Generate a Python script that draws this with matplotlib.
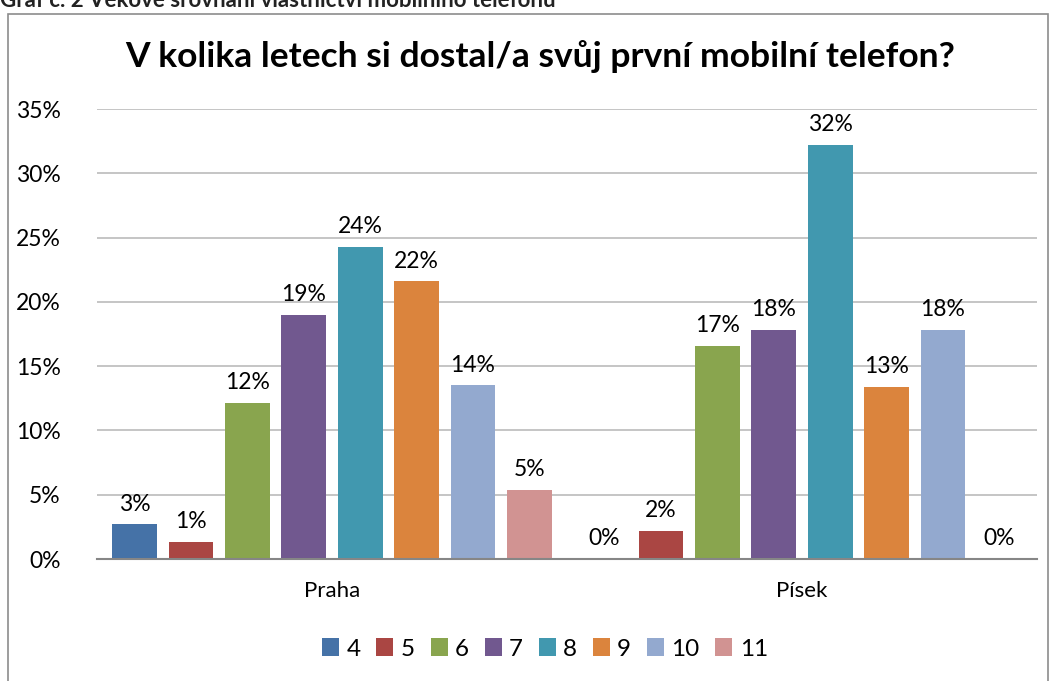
import numpy as np
import matplotlib
matplotlib.use("Agg")
import matplotlib.pyplot as plt
from matplotlib.patches import Rectangle

# data (share of respondents)
mesta = ["Praha", "Písek"]
vek = ["4", "5", "6", "7", "8", "9", "10", "11"]
praha = [0.027, 0.0135, 0.1215, 0.19, 0.243, 0.216, 0.135, 0.054]
pisek = [0.0, 0.022, 0.166, 0.178, 0.322, 0.134, 0.178, 0.0]
barvy = ["#4572A7", "#AA4643", "#89A54E", "#71588F",
         "#4198AF", "#DB843D", "#93A9CF", "#D19392"]

plt.rcParams['font.family'] = ['Lato', 'DejaVu Sans']

fig = plt.figure(figsize=(10.56, 6.81), dpi=100)
ax = fig.add_axes([97/1056, 1-559/681, 940/1056, 450/681])

# outer chart frame (runs off the bottom of the picture)
fig.patches.append(Rectangle((8/1056, -0.05), 1040/1056, 1.05-14/681,
                             transform=fig.transFigure, fill=False,
                             edgecolor="#8c8c8c", lw=1.2))

# caption cut off at the top, as in the source
fig.text(0.0, 1-7/681, "Graf č. 2 Věkové srovnání vlastnictví mobilního telefonu",
         fontsize=16, fontweight="bold", color="#222222", va="baseline", ha="left")

x = np.arange(len(mesta))
krok = 0.12
sirka = 0.095
for i, v in enumerate(vek):
    hodnoty = [praha[i], pisek[i]]
    pos = x + (i - 3.5) * krok
    bars = ax.bar(pos, hodnoty, width=sirka, color=barvy[i], label=v, zorder=3)
    for b, h in zip(bars, hodnoty):
        ax.annotate(f"{h*100:.0f}%", (b.get_x() + b.get_width()/2, h),
                    xytext=(0, 7), textcoords="offset points",
                    ha="center", va="bottom", fontsize=16.5)

ax.set_xlim(-0.5, 1.5)
ax.set_ylim(0, 0.35)
ax.set_yticks(np.arange(0, 0.351, 0.05))
ax.set_yticklabels([f"{int(round(t*100))}%" for t in np.arange(0, 0.351, 0.05)],
                   fontsize=16.5)
ax.set_xticks(x)
ax.set_xticklabels(mesta, fontsize=16)
ax.tick_params(length=0)
ax.tick_params(axis="y", pad=26)
ax.tick_params(axis="x", pad=16)
ax.yaxis.grid(True, color="#c0c0c0", lw=1.3, zorder=0)
for s in ["top", "right", "left"]:
    ax.spines[s].set_visible(False)
ax.spines["bottom"].set_color("#868686")
ax.spines["bottom"].set_linewidth(1.5)
ax.spines["bottom"].set_zorder(4)

fig.text(540/1056, 1-57/681, "V kolika letech si dostal/a svůj první mobilní telefon?",
         fontsize=25.5, fontweight="bold", ha="center", va="center")

fig.legend(loc="center", bbox_to_anchor=(545/1056, 1-649/681), ncol=8,
           frameon=False, fontsize=17.5, handlelength=0.7, handleheight=0.7,
           handletextpad=0.3, columnspacing=0.65)

fig.savefig("out.png", dpi=100)
